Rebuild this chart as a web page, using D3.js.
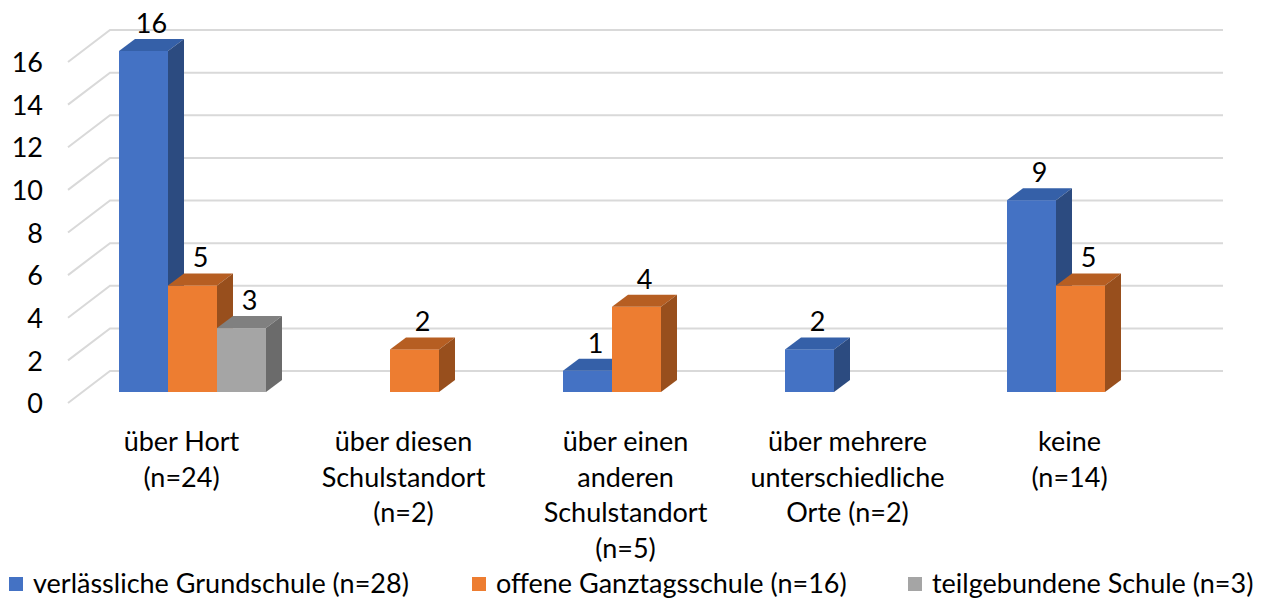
<!DOCTYPE html>
<html>
<head>
<meta charset="utf-8">
<script src="https://cdn.jsdelivr.net/npm/d3@7"></script>
<style>
  body { margin: 0; background: #fff; }
  text { font-family: Lato, "Open Sans", sans-serif; fill: #000; }
</style>
</head>
<body>
<div id="chart"></div>
<script>
// data
const categories = ["über Hort (n=24)", "über diesen Schulstandort (n=2)", "über einen anderen Schulstandort (n=5)", "über mehrere unterschiedliche Orte (n=2)", "keine (n=14)"];
const categoryLines = [
    ["über Hort", "(n=24)"],
    ["über diesen", "Schulstandort", "(n=2)"],
    ["über einen", "anderen", "Schulstandort", "(n=5)"],
    ["über mehrere", "unterschiedliche", "Orte (n=2)"],
    ["keine", "(n=14)"]
];
const seriesNames = ["verlässliche Grundschule (n=28)", "offene Ganztagsschule (n=16)", "teilgebundene Schule (n=3)"];
const grundschule = [16, 0, 1, 2, 9];
const ganztag = [5, 2, 4, 0, 5];
const teilgebunden = [3, 0, 0, 0, 0];
const yTicks = [0, 2, 4, 6, 8, 10, 12, 14, 16];

function createChart() {
    let w = 1275;
    let h = 598;
    let fontSize = "27px";
    // depth of the "3d" side wall and of a single bar
    let wallDx = 42, wallDy = -32;
    let barFrontDy = -11;
    let barDx = 16, barDy = -12;

    let colors = [
        {front: "#4472C4", top: "#3560A8", side: "#2C4B80"},
        {front: "#ED7D31", top: "#B65E22", side: "#984F1D"},
        {front: "#A5A5A5", top: "#808080", side: "#6B6B6B"}
    ];

    let svg = d3.select("#chart")
                .append("svg")
                .attr("width", w)
                .attr("height", h);

    // y scale is the front plane of the side wall
    let y = d3.scaleLinear()
                .domain([0, 16])
                .range([403, 62]);

    let x0 = d3.scaleBand()
                .domain(categories)
                .range([81.5, 1191.5]);
    // bars of one group sit centred in the category band
    let x1 = d3.scaleBand()
                .domain(seriesNames)
                .range([37.5, 184.5]);

    // gridlines: diagonal on the side wall, then flat across the back wall
    let grid = svg.append("g");
    grid.selectAll("path")
        .data(yTicks)
        .enter()
        .append("path")
        .attr("d", d => `M68,${y(d)} L${68 + wallDx},${y(d) + wallDy} L1223,${y(d) + wallDy}`)
        .attr("fill", "none")
        .attr("stroke", "#D9D9D9")
        .attr("stroke-width", 2);

    // y axis labels
    let yAxis = d3.axisLeft(y)
                .tickValues(yTicks)
                .tickSize(0)
                .tickPadding(0);
    let gy = svg.append("g")
        .attr("transform", "translate(43,0)")
        .call(yAxis);
    gy.select(".domain").remove();
    gy.selectAll("text")
        .style("font-family", "Lato, sans-serif")
        .style("font-size", fontSize)
        .attr("dy", "0.36em");

    let rows = [];
    categories.forEach((c, i) => {
        [grundschule[i], ganztag[i], teilgebunden[i]].forEach((v, s) => {
            if (v > 0) rows.push({cat: c, series: seriesNames[s], s: s, value: v});
        });
    });

    // bars, drawn left to right so each front covers the previous side face
    let bars = svg.append("g");
    rows.forEach(d => {
        let xl = x0(d.cat) + x1(d.series);
        let xr = xl + x1.bandwidth();
        let yt = y(d.value) + barFrontDy;
        let yb = y(0) + barFrontDy;
        let c = colors[d.s];
        let g = bars.append("g");
        g.append("rect")
            .attr("x", xl)
            .attr("y", yt)
            .attr("width", xr - xl)
            .attr("height", yb - yt)
            .attr("fill", c.front);
        g.append("path")
            .attr("d", `M${xl},${yt} L${xl + barDx},${yt + barDy} L${xr + barDx},${yt + barDy} L${xr},${yt} Z`)
            .attr("fill", c.top);
        g.append("path")
            .attr("d", `M${xr},${yt} L${xr + barDx},${yt + barDy} L${xr + barDx},${yb + barDy} L${xr},${yb} Z`)
            .attr("fill", c.side);
        // value label
        g.append("text")
            .attr("x", (xl + xr) / 2 + 8)
            .attr("y", yt + barDy - 6)
            .attr("text-anchor", "middle")
            .style("font-size", fontSize)
            .text(d.value);
    });

    // category labels
    let labels = svg.append("g");
    categories.forEach((c, i) => {
        let cx = x0(c) + x0.bandwidth() / 2 - 11;
        labels.append("text")
            .attr("text-anchor", "middle")
            .style("font-size", fontSize)
            .selectAll("tspan")
            .data(categoryLines[i])
            .enter()
            .append("tspan")
            .attr("x", cx)
            .attr("y", (d, j) => 451 + j * 35.5)
            .text(d => d);
    });

    // legend
    let legendX = [9, 472, 908];
    let legend = svg.append("g");
    seriesNames.forEach((s, i) => {
        legend.append("rect")
            .attr("x", legendX[i])
            .attr("y", 577)
            .attr("width", 14)
            .attr("height", 14)
            .attr("fill", colors[i].front);
        legend.append("text")
            .attr("x", legendX[i] + 24)
            .attr("y", 593)
            .style("font-size", fontSize)
            .text(s);
    });
}
createChart();
</script>
</body>
</html>
